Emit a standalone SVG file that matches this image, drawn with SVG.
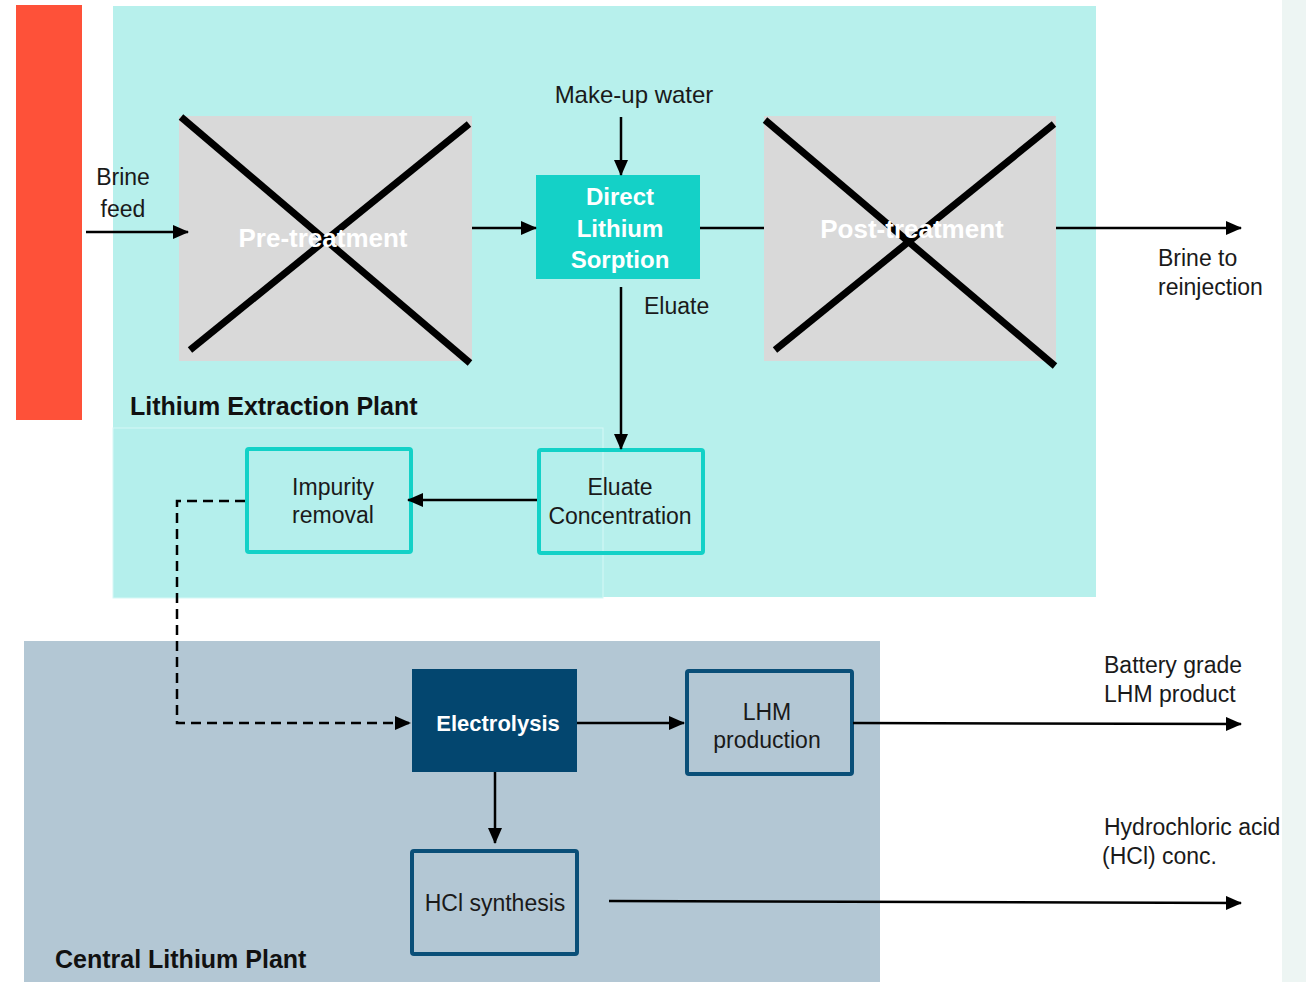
<svg xmlns="http://www.w3.org/2000/svg" width="1306" height="982" viewBox="0 0 1306 982">
<style>
.t{font-family:"Liberation Sans",Arial,sans-serif;font-size:23px;fill:#1a1a1a}
.b{font-family:"Liberation Sans",Arial,sans-serif;font-size:24px;font-weight:bold}
.w{fill:#ffffff}
.k{fill:#111111}
.c{stroke:#000;stroke-width:2.5;fill:none}
.x{stroke:#000;stroke-width:7}
.gray{fill:#d9d9d9}
.cy{fill:none;stroke:#13d1c7;stroke-width:4}
.bl{fill:none;stroke:#0a4f78;stroke-width:4}
</style>
<defs>
<marker id="ah" markerUnits="userSpaceOnUse" markerWidth="16" markerHeight="14" refX="15" refY="7" orient="auto">
<path d="M0,0 L16,7 L0,14 Z" fill="#000"/>
</marker>
</defs>
<rect width="1306" height="982" fill="#fff"/>
<rect x="1282" y="0" width="24" height="982" fill="#edf5f3"/>
<g id="red-bar"><rect x="16" y="5" width="66" height="415" fill="#fe5139"/></g>
<g id="lithium-extraction-plant">
<rect x="113" y="6" width="983" height="591" fill="#b7f0ec"/>
<rect x="113" y="428" width="490" height="170" fill="#b4efec" stroke="#d6f8f6" stroke-width="1"/>
<text class="b k" x="130" y="415" style="font-size:25px">Lithium Extraction Plant</text>
</g>
<g id="central-lithium-plant">
<rect x="24" y="641" width="856" height="341" fill="#b3c7d4"/>
<text class="b k" x="55" y="968" style="font-size:25px">Central Lithium Plant</text>
</g>
<g id="pre-treatment">
<rect class="gray" x="179" y="116" width="293" height="245"/>
<line class="x" x1="181" y1="117" x2="470" y2="363"/>
<line class="x" x1="190" y1="350" x2="469" y2="124"/>
<text class="b w" x="323" y="247" text-anchor="middle" style="font-size:26px">Pre-treatment</text>
</g>
<g id="post-treatment">
<rect class="gray" x="764" y="116" width="292" height="245"/>
<line class="x" x1="765" y1="120" x2="1055" y2="366"/>
<line class="x" x1="775" y1="350" x2="1054" y2="124"/>
<text class="b w" x="912" y="238" text-anchor="middle" style="font-size:26px">Post-treatment</text>
</g>
<g id="direct-lithium-sorption">
<rect x="536" y="175" width="164" height="104" fill="#14d1c7"/>
<text class="b w" x="620" y="205" text-anchor="middle">Direct</text>
<text class="b w" x="620" y="237" text-anchor="middle">Lithium</text>
<text class="b w" x="620" y="268" text-anchor="middle">Sorption</text>
</g>
<g id="eluate-concentration">
<rect class="cy" x="539" y="450" width="164" height="103" rx="2"/>
<text class="t" x="620" y="495" text-anchor="middle">Eluate</text>
<text class="t" x="620" y="524" text-anchor="middle">Concentration</text>
</g>
<g id="impurity-removal">
<rect class="cy" x="247" y="449" width="164" height="103" rx="2"/>
<text class="t" x="333" y="495" text-anchor="middle">Impurity</text>
<text class="t" x="333" y="523" text-anchor="middle">removal</text>
</g>
<g id="electrolysis">
<rect x="412" y="669" width="165" height="103" fill="#03466f"/>
<text class="w" x="498" y="731" text-anchor="middle" style="font-family:'Liberation Sans',Arial,sans-serif;font-size:22px;font-weight:bold">Electrolysis</text>
</g>
<g id="lhm-production">
<rect class="bl" x="687" y="671" width="165" height="103" rx="2"/>
<text class="t" x="767" y="720" text-anchor="middle">LHM</text>
<text class="t" x="767" y="748" text-anchor="middle">production</text>
</g>
<g id="hcl-synthesis">
<rect class="bl" x="412" y="851" width="165" height="103" rx="2"/>
<text class="t" x="495" y="911" text-anchor="middle">HCl synthesis</text>
</g>
<g id="labels">
<text class="t" x="123" y="185" text-anchor="middle">Brine</text>
<text class="t" x="123" y="217" text-anchor="middle">feed</text>
<text class="t" x="634" y="103" text-anchor="middle" style="font-size:24px">Make-up water</text>
<text class="t" x="644" y="314">Eluate</text>
<text class="t" x="1158" y="266">Brine to</text>
<text class="t" x="1158" y="295">reinjection</text>
<text class="t" x="1104" y="673">Battery grade</text>
<text class="t" x="1104" y="702">LHM product</text>
<text class="t" x="1104" y="835">Hydrochloric acid</text>
<text class="t" x="1102" y="864">(HCl) conc.</text>
</g>
<g id="connectors">
<line class="c" x1="86" y1="232" x2="188" y2="232" marker-end="url(#ah)"/>
<line class="c" x1="621" y1="117" x2="621" y2="175" marker-end="url(#ah)"/>
<line class="c" x1="472" y1="228" x2="536" y2="228" marker-end="url(#ah)"/>
<line class="c" x1="700" y1="228" x2="764" y2="228"/>
<line class="c" x1="1056" y1="228" x2="1241" y2="228" marker-end="url(#ah)"/>
<line class="c" x1="621" y1="287" x2="621" y2="449" marker-end="url(#ah)"/>
<line class="c" x1="537" y1="500" x2="408" y2="500" marker-end="url(#ah)"/>
<path class="c" d="M245,501 H177 V723 H410" stroke-dasharray="10,6" marker-end="url(#ah)"/>
<line class="c" x1="577" y1="723" x2="684" y2="723" marker-end="url(#ah)"/>
<line class="c" x1="853" y1="723" x2="1241" y2="724" marker-end="url(#ah)"/>
<line class="c" x1="495" y1="772" x2="495" y2="843" marker-end="url(#ah)"/>
<line class="c" x1="609" y1="901" x2="1241" y2="903" marker-end="url(#ah)"/>
</g>
</svg>
